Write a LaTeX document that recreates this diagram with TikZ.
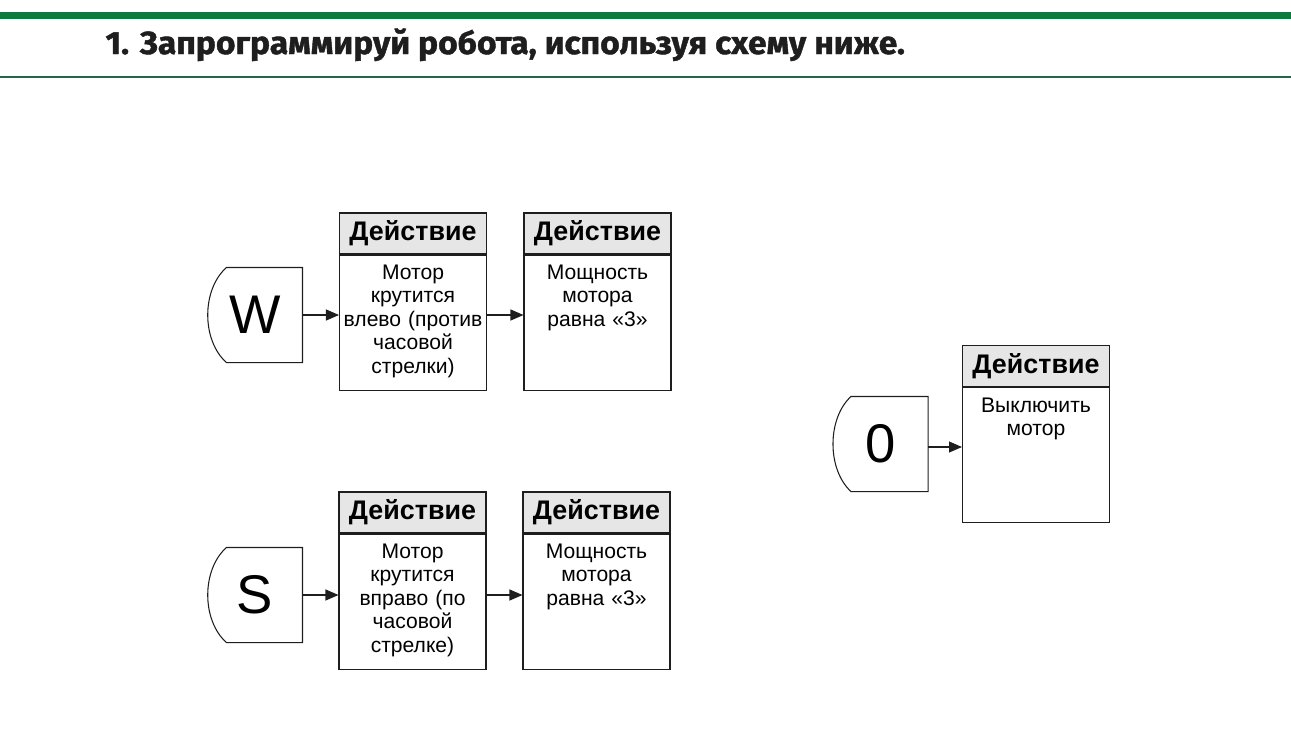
\documentclass[tikz,border=0pt]{standalone}
\usepackage{fontspec}
\setmainfont{Liberation Sans}
\newfontfamily\titlefont[FakeBold=1.3, FakeStretch=1.05]{Fira Sans}
\usetikzlibrary{arrows.meta, positioning, calc}
\definecolor{barcol}{RGB}{11, 122, 60}
\definecolor{rulecol}{RGB}{40, 100, 70}
\definecolor{headcol}{RGB}{230, 230, 230}
\definecolor{linecol}{RGB}{30, 30, 30}

\begin{document}
\begin{tikzpicture}[
    x=0.02cm, y=-0.02cm,
    line width=0.6pt,
    keybox/.style = {rectangle, minimum width=1.88cm, minimum height=1.88cm, inner sep=0pt,
                     font=\fontsize{31}{31}\selectfont},
    keyline/.style = {draw=linecol},
    head/.style = {rectangle, draw=linecol, fill=headcol, minimum width=2.94cm, minimum height=0.82cm,
                   inner sep=0pt, font=\fontsize{15.3}{16}\selectfont\bfseries},
    frame/.style = {rectangle, draw=linecol, minimum width=2.94cm, minimum height=2.7cm, inner sep=0pt},
    bodytext/.style = {inner sep=0pt, text width=2.8cm, align=center,
                       font=\fontsize{12}{13.3}\selectfont},
    arrow/.style = {draw=linecol, -{Triangle[length=0.26cm, width=0.22cm]}}
]
    \useasboundingbox (0,0) rectangle (1291,731);

    % Header
    \fill[barcol] (0,12) rectangle (1291,19);
    \draw[rulecol, line width=0.8pt] (0,77) -- (1291,77);
    \node[anchor=base west, inner sep=0pt, text=linecol, font=\titlefont\fontsize{18.2}{18.2}\selectfont\bfseries] (title) at (105,54)
        {1. Запрограммируй робота, используя схему ниже.};

    % ROW W
    \node[keybox] (keyW) at (255,315) {W};
    \draw[keyline] (keyW.north east) -- ($(keyW.north west)+(19,0)$)
        .. controls ($(keyW.north west)+(-6,22)$) and ($(keyW.south west)+(-6,-22)$) .. ($(keyW.south west)+(19,0)$)
        -- (keyW.south east) -- cycle;

    \node[head] (act1h) at (413,233.5) {Действие};
    \node[frame, below=0pt of act1h] (act1) {};
    \node[bodytext, below=0.2cm of act1h] {Мотор\\крутится\\влево (против\\часовой\\стрелки)};

    \node[head] (act2h) at (597.5,233.5) {Действие};
    \node[frame, below=0pt of act2h] (act2) {};
    \node[bodytext, below=0.2cm of act2h] {Мощность\\мотора\\равна «3»};

    % ROW S
    \node[keybox] (keyS) at (255,595) {S};
    \draw[keyline] (keyS.north east) -- ($(keyS.north west)+(19,0)$)
        .. controls ($(keyS.north west)+(-6,22)$) and ($(keyS.south west)+(-6,-22)$) .. ($(keyS.south west)+(19,0)$)
        -- (keyS.south east) -- cycle;

    \node[head] (act3h) at (412.5,512.5) {Действие};
    \node[frame, below=0pt of act3h] (act3) {};
    \node[bodytext, below=0.2cm of act3h] {Мотор\\крутится\\вправо (по\\часовой\\стрелке)};

    \node[head] (act4h) at (596.5,512.5) {Действие};
    \node[frame, below=0pt of act4h] (act4) {};
    \node[bodytext, below=0.2cm of act4h] {Мощность\\мотора\\равна «3»};

    % ROW 0
    \node[keybox] (key0) at (880.5,444) {0};
    \draw[keyline] (key0.north east) -- ($(key0.north west)+(18,0)$)
        .. controls ($(key0.north west)+(-6,22)$) and ($(key0.south west)+(-6,-22)$) .. ($(key0.south west)+(18,0)$)
        -- (key0.south east) -- cycle;

    \node[head] (act5h) at (1036,366) {Действие};
    \node[frame, below=0pt of act5h] (act5) {};
    \node[bodytext, below=0.2cm of act5h] {Выключить\\мотор};

    % ARROWS
    \draw[arrow] (keyW.east) -- (keyW.east -| act1.west);
    \draw[arrow] (keyW.east -| act1.east) -- (keyW.east -| act2.west);
    \draw[arrow] (keyS.east) -- (keyS.east -| act3.west);
    \draw[arrow] (keyS.east -| act3.east) -- (keyS.east -| act4.west);
    \draw[arrow] ([yshift=-0.06cm]key0.east) -- ([yshift=-0.06cm]key0.east -| act5.west);

\end{tikzpicture}
\end{document}
